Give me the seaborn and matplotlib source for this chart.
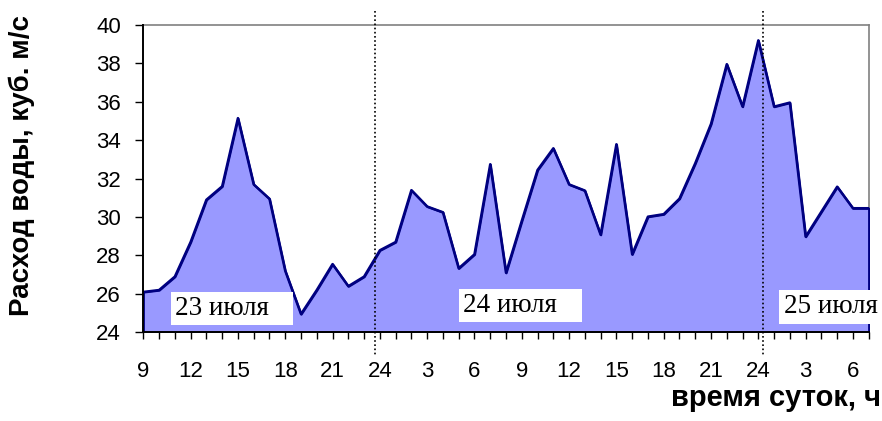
import matplotlib
matplotlib.use("Agg")
import matplotlib.pyplot as plt
import matplotlib.transforms as mtransforms
import numpy as np
import pandas as pd
import seaborn as sns

# часы наблюдений: с 9 ч 23 июля до 7 ч 25 июля
hours = [9, 10, 11, 12, 13, 14, 15, 16, 17, 18, 19, 20, 21, 22, 23, 24,
         1, 2, 3, 4, 5, 6, 7, 8, 9, 10, 11, 12, 13, 14, 15, 16, 17, 18,
         19, 20, 21, 22, 23, 24, 1, 2, 3, 4, 5, 6, 7]
flow = [26.1, 26.2, 26.9, 28.7, 30.9, 31.6, 35.15, 31.7, 30.95, 27.2,
        24.95, 26.2, 27.55, 26.4, 26.9, 28.27, 28.7, 31.4, 30.55, 30.25,
        27.33, 28.06, 32.75, 27.1, 29.8, 32.45, 33.58, 31.7, 31.38, 29.08,
        33.79, 28.06, 30.02, 30.15, 30.96, 32.8, 34.85, 37.96, 35.75, 39.2,
        35.75, 35.96, 28.98, 30.28, 31.58, 30.46, 30.46]
day_labels = ["23 июля", "24 июля", "25 июля"]
day_label_pos = [2.0, 20.3, 40.6]
day_label_y = [24.9, 25.07, 24.98]
midnight_marks = [14.67, 39.3]

df = pd.DataFrame({"idx": np.arange(len(flow)), "hour": hours, "flow": flow})

sns.set_style("white")
plt.rcParams["font.family"] = ["Liberation Sans", "DejaVu Sans"]
plt.rcParams["text.color"] = "black"
plt.rcParams["xtick.color"] = "black"
plt.rcParams["ytick.color"] = "black"

fig = plt.figure(figsize=(8.82, 4.21), dpi=100)
ax = fig.add_axes([143.3 / 882, 1 - 332.3 / 421, (868.7 - 143.3) / 882, (332.3 - 25) / 421])

ax.fill_between(df["idx"], df["flow"], 24, facecolor="#9999FF",
                edgecolor="#000080", linewidth=1.6, zorder=2)
sns.lineplot(data=df, x="idx", y="flow", ax=ax, color="#000080", linewidth=1.8, zorder=3)

ax.set_xlim(0, len(flow) - 1)
ax.set_ylim(24, 40)
ax.set_yticks(np.arange(24, 41, 2))
ax.set_xticks(df["idx"])
ax.set_xticklabels([str(h) if i % 3 == 0 else "" for i, h in enumerate(hours)])
ax.tick_params(axis="y", left=True, direction="out", length=6, width=1,
               color="black", labelsize=16, pad=10)
ax.tick_params(axis="x", bottom=True, direction="out", length=5, width=1,
               color="black", labelsize=16, pad=16)
ax.set_xlabel("")
ax.set_ylabel("")

for side in ("left", "bottom"):
    ax.spines[side].set_color("black")
    ax.spines[side].set_linewidth(1.4)
    ax.spines[side].set_zorder(4)
for side in ("top", "right"):
    ax.spines[side].set_color("#808080")
    ax.spines[side].set_linewidth(1.2)
    ax.spines[side].set_zorder(1)

# пунктирные линии — полночь
trans = mtransforms.blended_transform_factory(ax.transData, ax.transAxes)
for xm in midnight_marks:
    ax.plot([xm, xm], [1.045, -0.075], transform=trans, color="black",
            linestyle=(0, (1, 1.5)), linewidth=1.2, clip_on=False, zorder=5)

for k, (lab, xp, yp) in enumerate(zip(day_labels, day_label_pos, day_label_y)):
    txt = lab + ("   " if k < 2 else "")
    ax.text(xp, yp, txt, family=["Liberation Serif", "DejaVu Serif"], fontsize=19.5,
            va="baseline", ha="left", zorder=6, clip_on=False,
            bbox=dict(facecolor="white", edgecolor="none", pad=3))

fig.text(22 / 882, 1 - 165 / 421, "Расход воды, куб. м/с", rotation=90,
         ha="center", va="center", fontsize=20, fontweight="bold")
fig.text(881 / 882, 1 - 406 / 421, "время суток, ч", ha="right", va="baseline",
         fontsize=21, fontweight="bold")

fig.savefig("out.png", dpi=100)
